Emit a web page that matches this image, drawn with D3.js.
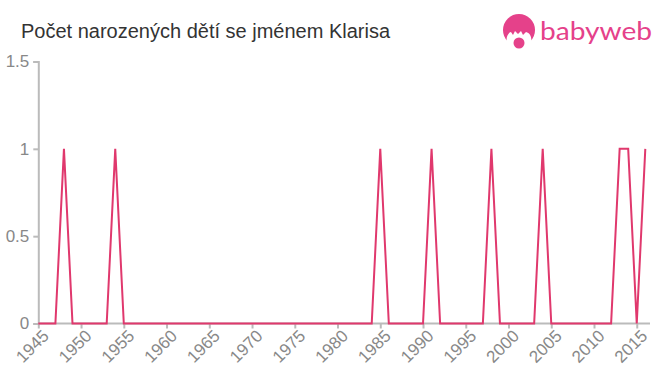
<!DOCTYPE html>
<html><head><meta charset="utf-8">
<script src="https://cdn.jsdelivr.net/npm/d3@7"></script>
<style>body{margin:0;background:#fff}svg{display:block;font-family:"Liberation Sans",Arial,sans-serif}</style>
</head><body>
<svg id="c" width="660" height="375"></svg>
<script>
const years = d3.range(1945, 2017);
const ones = [1948, 1954, 1985, 1991, 1998, 2004, 2013, 2014, 2016];
const counts = years.map(y => ones.includes(y) ? 1 : 0);
const yTicks = [0, 0.5, 1, 1.5];
const xTicks = [1945,1950,1955,1960,1965,1970,1975,1980,1985,1990,1995,2000,2005,2010,2015];
const title = "Počet narozených dětí se jménem Klarisa";

const svg = d3.select("#c");
const x = d3.scaleLinear().domain([1945, 2016]).range([38.3, 645.3]);
const y = d3.scaleLinear().domain([0, 1.5]).range([323.5, 61.5]);

svg.append("text").attr("x", 21).attr("y", 38).attr("font-size", 20).attr("fill", "#333").text(title);

// axes
const gy = svg.append("g").attr("transform", "translate(38.3,0)")
  .call(d3.axisLeft(y).tickValues(yTicks).tickSize(5).tickFormat(d3.format("")));
const gx = svg.append("g").attr("transform", "translate(0,323.5)")
  .call(d3.axisBottom(x).tickValues(xTicks).tickSize(5).tickFormat(d3.format("d")));
gx.select(".domain").attr("d", "M38.3,0H650");
[gx, gy].forEach(g => {
  g.selectAll(".domain").attr("stroke", "#bbb").attr("stroke-width", 2);
  g.selectAll(".tick line").attr("stroke", "#bbb").attr("stroke-width", 2);
  g.selectAll("text").attr("fill", "#888").attr("font-size", 17).attr("font-family", "Liberation Sans, Arial, sans-serif");
});
gy.selectAll(".tick line").attr("x2", -5);
gy.selectAll("text").attr("x", -9);
gx.selectAll("text").attr("transform", "rotate(-45)").attr("text-anchor", "end")
  .attr("dx", "-0.1em").attr("dy", "0.55em").attr("x", 0).attr("y", 8);

// line
svg.append("path").datum(counts)
  .attr("fill", "none").attr("stroke", "#e0386d").attr("stroke-width", 2)
  .attr("stroke-linejoin", "miter")
  .attr("d", d3.line().x((d, i) => x(years[i])).y(d => y(d)));

// logo
const pink = "#e5418a";
const logo = svg.append("g");
logo.append("circle").attr("cx", 519).attr("cy", 30).attr("r", 16).attr("fill", pink);
logo.append("path").attr("fill", "#fff")
  .attr("d", "M508,46 C505,40 507,33 511,32 L513,35 L515,31 L518,34 L521,31 L523,35 L526,32 C531,33 533,40 530,46 Z");
logo.append("circle").attr("cx", 519).attr("cy", 43).attr("r", 5.5).attr("fill", pink);
logo.append("text").attr("x", 540).attr("y", 40).attr("font-size", 25).attr("fill", pink)
  .attr("textLength", 112).attr("lengthAdjust", "spacingAndGlyphs")
  .attr("font-family", "Lato, 'Liberation Sans', sans-serif").text("babyweb");
</script>
</body></html>
